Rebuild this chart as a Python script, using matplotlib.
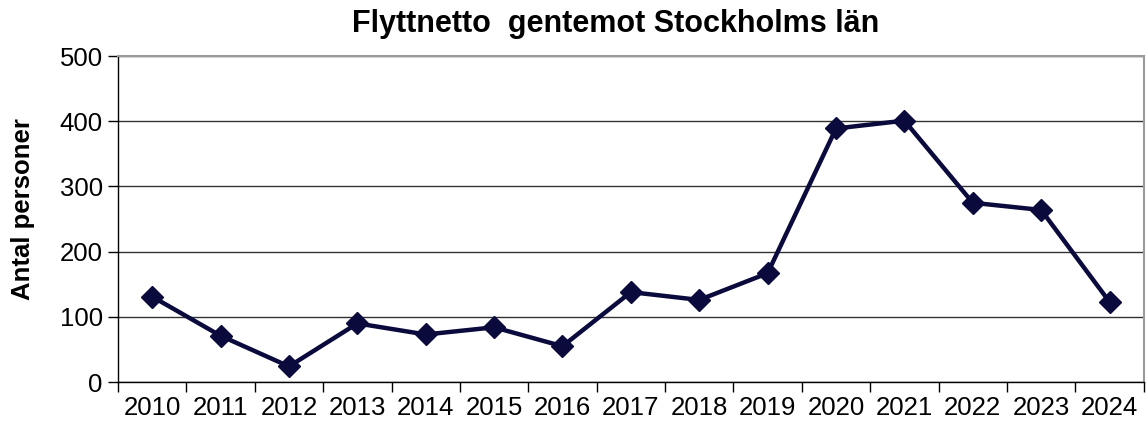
import matplotlib.pyplot as plt
import numpy as np

plt.rcParams['font.family'] = ['Liberation Sans', 'DejaVu Sans']

years = ['2010', '2011', '2012', '2013', '2014', '2015', '2016', '2017',
         '2018', '2019', '2020', '2021', '2022', '2023', '2024']
netto = [131, 71, 24, 90, 73, 84, 55, 138, 126, 167, 389, 401, 275, 264, 123]

fig = plt.figure(figsize=(11.46, 4.25), dpi=100)
ax = fig.add_axes([0.103, 0.101, 0.895, 0.767])

x = np.arange(len(years))
ax.plot(x, netto, color='#0a0a3c', lw=3.2, marker='D', ms=11, zorder=3)

ax.set_xlim(-0.5, len(years) - 0.5)
ax.set_ylim(0, 500)
ax.set_yticks(range(0, 501, 100))
ax.yaxis.grid(True, color='#333333', lw=1)
ax.set_axisbelow(True)

# category ticks between labels, labels in the middle
ax.set_xticks(np.arange(-0.5, len(years), 1.0))
ax.set_xticklabels([])
ax.set_xticks(x, minor=True)
ax.set_xticklabels(years, minor=True)
ax.tick_params(axis='x', which='minor', length=0, labelsize=18.5, pad=10)
ax.tick_params(axis='x', which='major', length=7, width=1, direction='out')
ax.tick_params(axis='y', length=7, width=1, labelsize=18.5, pad=4)

for s in ['top', 'right']:
    ax.spines[s].set_color('#9a9a9a')
    ax.spines[s].set_linewidth(1.5)
for s in ['left', 'bottom']:
    ax.spines[s].set_color('black')
    ax.spines[s].set_linewidth(1)

ax.set_ylabel('Antal personer', fontsize=18.5, fontweight='bold')
ax.yaxis.set_label_coords(-0.081, 0.53)
fig.text(616 / 1146, 1 - 24 / 425, 'Flyttnetto  gentemot Stockholms län',
         ha='center', va='center', fontsize=22, fontweight='bold')

fig.savefig('out.png', dpi=100)
